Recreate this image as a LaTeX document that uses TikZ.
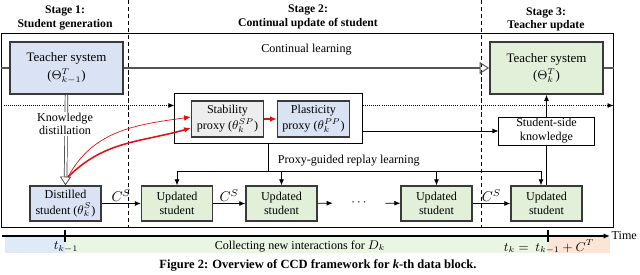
\documentclass[tikz,border=0pt]{standalone}
\usepackage{fontspec}
\setmainfont{Liberation Serif}
\usetikzlibrary{arrows.meta,calc,positioning}
\definecolor{edge}{HTML}{3A3A3A}
\definecolor{bluefill}{HTML}{DAE3F3}
\definecolor{greenfill}{HTML}{E2F0D9}
\definecolor{grayfill}{HTML}{EDEDED}
\definecolor{peach}{HTML}{FBE5D6}
\definecolor{bandblue}{HTML}{DEEBF7}
\definecolor{bandgreen}{HTML}{EBF5E4}
\definecolor{proxyred}{HTML}{E01010}
\definecolor{thickgray}{HTML}{555555}
\tikzset{
  box/.style={draw=edge,line width=0.9pt,align=center,inner sep=1pt,
              font=\fontsize{8.6}{10.2}\selectfont},
  teacherbox/.style={box,line width=1.2pt,minimum width=2.825cm,minimum height=1.3cm,
              font=\fontsize{9.2}{11.4}\selectfont},
  studentbox/.style={box,minimum width=1.775cm,minimum height=0.875cm,fill=greenfill},
  proxybox/.style={box,minimum width=1.8cm,minimum height=0.9cm},
  plainbox/.style={draw=black,line width=0.7pt,fill=white,align=center,inner sep=0pt,
              font=\fontsize{8.6}{10}\selectfont},
  stagehead/.style={font=\bfseries\fontsize{8.3}{9.6}\selectfont,align=center},
  txt/.style={font=\fontsize{8.6}{9.6}\selectfont,align=center},
  captiontext/.style={font=\bfseries\fontsize{8.9}{11}\selectfont},
  dataflow/.style={-{Latex[length=1.5mm,width=1.2mm]},line width=0.5pt,draw=black},
  dotflow/.style={dataflow,densely dotted},
  redflow/.style={-{Latex[length=1.7mm,width=1.4mm]},draw=proxyred},
  learnflow/.style={line width=2pt,draw=thickgray},
  distflow/.style={draw=edge,line width=0.5pt,double=white,double distance=1.4pt,
              -{Triangle[open,length=2.2mm,width=2.8mm,line width=0.5pt]}},
  stagesep/.style={densely dashed,line width=0.6pt}
}
\begin{document}
\begin{tikzpicture}[x=0.025cm,y=-0.025cm]
  \useasboundingbox (0,0) rectangle (640,275);
  % time bands
  \fill[bandblue] (5,237) rectangle (65,253);
  \fill[bandgreen] (65,237) rectangle (548,253);
  \fill[peach] (548,237) rectangle (610,253);
  % stage headers
  \node[stagehead] (s1) at (65,18) {Stage 1:\\Student generation};
  \node[stagehead] (s2) at (308,17) {Stage 2:\\Continual update of student};
  \node[stagehead] (s3) at (546,19.5) {Stage 3:\\Teacher update};
  % frame and stage separators
  \node[draw=black,line width=0.7pt,minimum width=15.275cm,minimum height=4.825cm,inner sep=0pt] (outer) at (307.5,130.5) {};
  \draw[stagesep] (128,0) -- (128,227);
  \draw[stagesep] (481,0) -- (481,227);
  % teachers
  \node[teacherbox,fill=bluefill] (tl) at (66.5,68) {Teacher system\\[1.2pt]($\Theta^{T}_{k-1}$)};
  \node[teacherbox,fill=greenfill] (tr) at (546.5,68) {Teacher system\\[1.2pt]($\Theta^{T}_{k}$)};
  \draw[learnflow] (outer.west |- tl) -- (tl.west);
  \draw[learnflow,-{Triangle[open,length=2.4mm,width=3mm,line width=0.7pt]}] (tl.east) -- node[txt,above=5pt] {Continual learning} (tr.west);
  \draw[learnflow] (tr.east) -- (outer.east |- tr);
  % proxies
  \node[plainbox,minimum width=4.675cm,minimum height=1.225cm] (pf) at (268.5,118.5) {};
  \node[proxybox,fill=grayfill] (sp) at (227.5,119) {Stability\\[1.2pt]proxy ($\theta^{SP}_{k}$)};
  \node[proxybox,fill=bluefill] (pp) at (313.5,119) {Plasticity\\[1.2pt]proxy ($\theta^{PP}_{k}$)};
  \draw[redflow,line width=1pt] (sp) -- (pp);
  \coordinate (dt) at (0,105.5);
  \draw[dotflow] (outer.west |- dt) -- (pf.west |- dt);
  \draw[dotflow] (pf.east |- dt) -- (outer.east |- dt);
  \node[plainbox,minimum width=2.375cm,minimum height=0.7cm] (sk) at (546.5,131) {Student-side\\knowledge};
  \draw[dataflow] (pf.east |- sk) -- (sk.west);
  \draw[dataflow] (sk.north) -- (tr.south);
  % students
  \node[box,fill=bluefill,minimum width=1.775cm,minimum height=0.875cm] (ds) at (65.5,203.5) {Distilled\\[1pt]student ($\theta^{S}_{k}$)};
  \node[studentbox] (us1) at (177,203.5) {Updated\\student};
  \node[studentbox] (us2) at (281.5,203.5) {Updated\\student};
  \node[txt,minimum width=1.3cm] (dots) at (359,203) {$\cdots$};
  \node[studentbox] (us3) at (436.5,203.5) {Updated\\student};
  \node[studentbox] (us4) at (546.5,203.5) {Updated\\student};
  \draw[dataflow] (ds) -- node[above,inner sep=1pt] {$C^{S}$} (us1);
  \draw[dataflow] (us1) -- node[above,inner sep=1pt] {$C^{S}$} (us2);
  \draw[dataflow] (us2) -- (dots);
  \draw[dataflow] (dots) -- (us3);
  \draw[dataflow] (us3) -- node[above,inner sep=1pt] {$C^{S}$} (us4);
  \draw (sk.south) -- (us4.north);
  % distillation
  \draw[distflow] (tl.south) -- (ds.north);
  \node[txt,fill=white,inner sep=1pt] (kd) at (65,124) {Knowledge\\distillation};
  \coordinate (rs) at (68,177);
  \draw[redflow,line width=0.5pt] (rs) to[out=62,in=188] ($(sp.west)+(0,-2)$);
  \draw[redflow,line width=1.1pt] (rs) to[out=45,in=196] ($(sp.west)+(0,9)$);
  % replay
  \coordinate (rr) at (541,171);
  \draw (pf.south) -- (pf.south |- rr);
  \draw (us1.north |- rr) -- (rr);
  \foreach \n in {us1,us2,us3} \draw[dataflow] (\n.north |- rr) -- (\n.north);
  \draw[dataflow] (rr) -- (rr |- us4.north);
  \node[txt,anchor=west] (rl) at (273,161) {Proxy-guided replay learning};
  % timeline
  \coordinate (t0) at (2,236);
  \coordinate (t1) at (610,236);
  \draw[-{Latex[length=1.6mm,width=1.3mm]},line width=1.2pt] (t0) -- (t1);
  \node[txt,anchor=west,inner sep=1pt] (time) at (t1) {Time};
  \draw[line width=0.8pt] (65,230) -- (65,242);
  \draw[line width=0.8pt] (548,230) -- (548,242);
  \node[txt] (tkm) at (66,247) {$t_{k-1}$};
  \node[txt] (coll) at (300,246) {Collecting new interactions for $D_k$};
  \node[txt] (tk) at (549,247) {$t_k =\ t_{k-1} + C^{T}$};
  % caption
  \node[captiontext] (cap) at (318,265.5) {Figure 2: Overview of CCD framework for \textit{k}-th data block.};
\end{tikzpicture}
\end{document}
